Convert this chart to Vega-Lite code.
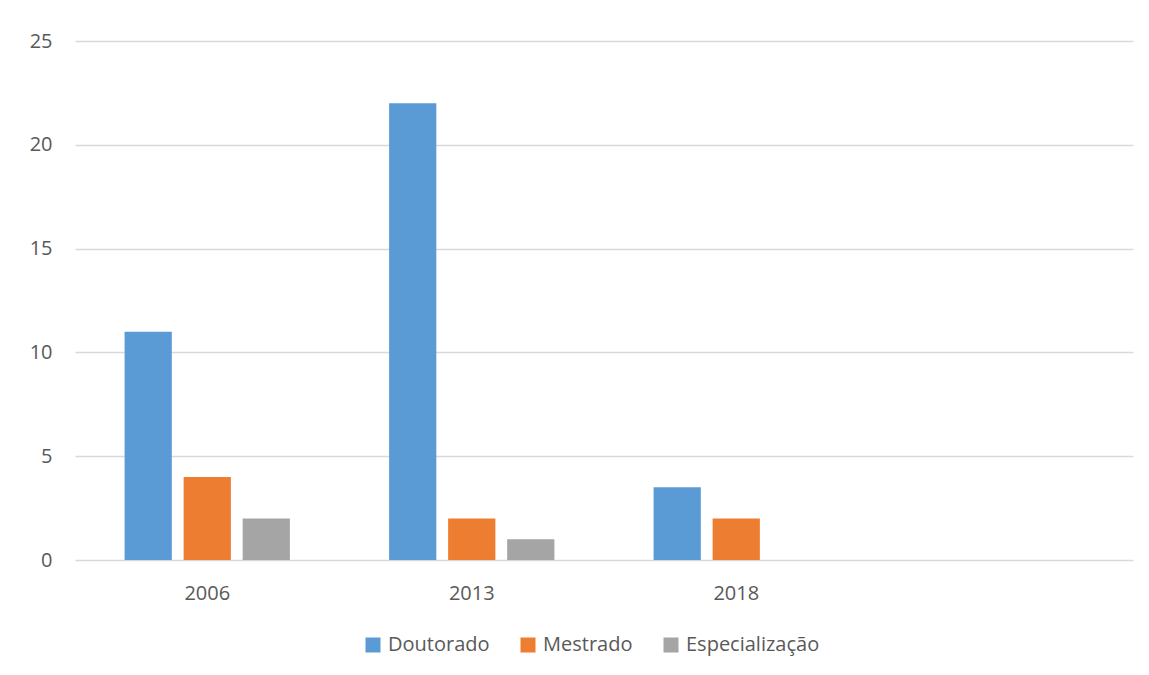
{
  "$schema": "https://vega.github.io/schema/vega-lite/v6.json",
  "width": 1058,
  "height": 519,
  "autosize": "none",
  "padding": {"left": 75, "top": 41, "right": 16, "bottom": 115},
  "background": "white",
  "config": {"view": {"stroke": null}, "font": "Open Sans"},
  "data": {"values": [
    {"year": "2006", "nivel": "Doutorado", "valor": 11},
    {"year": "2006", "nivel": "Mestrado", "valor": 4},
    {"year": "2006", "nivel": "Especialização", "valor": 2},
    {"year": "2013", "nivel": "Doutorado", "valor": 22},
    {"year": "2013", "nivel": "Mestrado", "valor": 2},
    {"year": "2013", "nivel": "Especialização", "valor": 1},
    {"year": "2018", "nivel": "Doutorado", "valor": 3.5},
    {"year": "2018", "nivel": "Mestrado", "valor": 2}
  ]},
  "mark": {"type": "bar"},
  "encoding": {
    "x": {
      "field": "year", "type": "nominal",
      "scale": {"domain": ["2006", "2013", "2018", " "], "paddingInner": 0, "paddingOuter": 0},
      "axis": {"title": null, "labelAngle": 0, "domain": false, "ticks": false, "labelPadding": 23, "labelFontSize": 20, "labelColor": "#595959", "labelFont": "Open Sans"}
    },
    "xOffset": {
      "field": "nivel", "type": "nominal",
      "scale": {"domain": ["Doutorado", "Mestrado", "Especialização"], "paddingInner": 0.2, "paddingOuter": 0.84}
    },
    "y": {
      "field": "valor", "type": "quantitative",
      "scale": {"domain": [0, 25]},
      "axis": {"title": null, "values": [0, 5, 10, 15, 20, 25], "domain": false, "ticks": false, "labelPadding": 23, "labelFontSize": 20, "labelColor": "#595959", "gridColor": "#d9d9d9", "gridWidth": 1.5}
    },
    "color": {
      "field": "nivel", "type": "nominal",
      "scale": {"domain": ["Doutorado", "Mestrado", "Especialização"], "range": ["#5b9bd5", "#ed7d31", "#a5a5a5"]},
      "legend": {"title": null, "orient": "none", "direction": "horizontal", "legendX": 288, "legendY": 594, "symbolType": "square", "symbolSize": 225, "symbolStrokeWidth": 0, "labelFontSize": 20, "labelColor": "#595959", "columnPadding": 28, "labelOffset": 5}
    }
  }
}
